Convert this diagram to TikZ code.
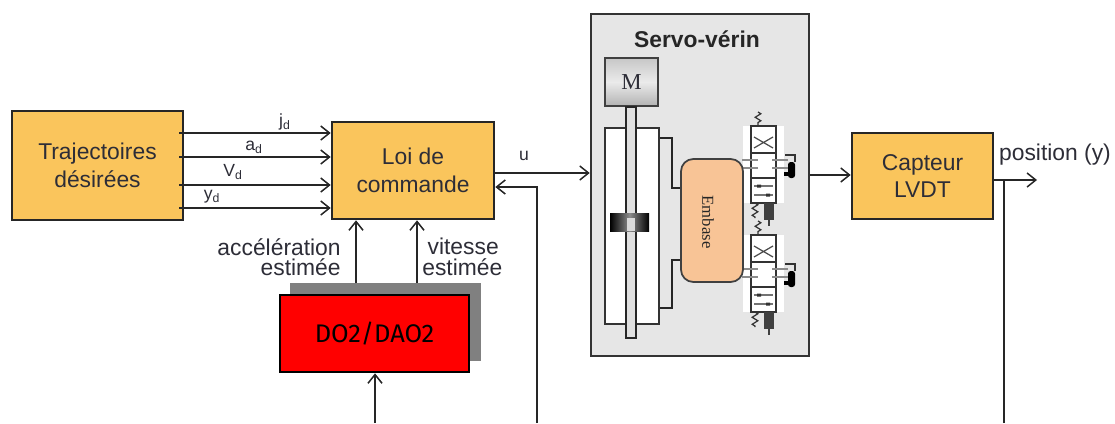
\documentclass[tikz,border=0pt]{standalone}
\usepackage{fontspec}
\setmainfont{Liberation Sans}
\newfontfamily\serifface{Liberation Serif}
\newfontfamily\boxface{Fira Sans}
\usetikzlibrary{arrows.meta, calc, decorations.pathmorphing}
\definecolor{blockorange}{RGB}{250, 197, 92}
\definecolor{embasecolor}{RGB}{248, 196, 150}
\definecolor{servogray}{RGB}{230, 230, 230}
\definecolor{textdark}{RGB}{45, 45, 55}
\tikzset{
  block/.style={draw=black!85, line width=1.5pt, fill=blockorange, text=textdark, align=center,
    font=\fontsize{13}{15.6}\selectfont},
  sig/.style={draw=black!85, line width=0.85pt, -{Straight Barb[length=5pt,width=8pt,line width=0.85pt]}},
  sigline/.style={draw=black!85, line width=0.85pt},
  lab/.style={text=textdark, inner sep=0pt, align=center, font=\fontsize{13}{11.6}\selectfont},
  sublab/.style={text=textdark, inner sep=0pt, align=center, font=\fontsize{10}{11}\selectfont},
  pipe/.style={draw=black!85, line width=1.6pt},
  spring/.style={draw=black!80, line width=0.7pt, decorate, decoration={zigzag, segment length=4pt, amplitude=1.6pt}},
  valve/.pic={
    \fill[white] (-8,0) rectangle (33,77);
    \draw[black!80, line width=0.9pt] (0,0) rectangle (25,77);
    \draw[black!80, line width=0.8pt] (0,27) -- (25,27) (0,52) -- (25,52);
    \draw[black!70, line width=0.7pt] (3,11) -- (22,22) (22,11) -- (3,22);
    % orifices
    \draw[black!45, line width=0.7pt] (-9,34) -- (7,34) (-9,42) -- (7,42);
    \draw[black!45, line width=0.7pt] (21,34) -- (37,34) (21,42) -- (37,42);
    \draw[black!55, line width=0.6pt] (3,60) -- (22,60) (3,69) -- (22,69);
    \fill[black!80] (6,58.5) rectangle (10,61.5) (15,67.5) rectangle (19,70.5);
    % ressorts
    \draw[spring] (7,-14) -- (7,0);
    \draw[spring] (4,77) -- (4,92);
    % pilote
    \fill[black!75] (13,77) rectangle (23,94);
    \draw[black!75, line width=1.2pt] (18,94) -- (18,100);
    \draw[black!80, line width=0.6pt] (34,29) -- (44,29) -- (44,36);
    \fill[black, rounded corners=1.5pt] (37,36) rectangle (44,52);
    \fill[black] (33,46) rectangle (41,50);
  }
}
\begin{document}
\begin{tikzpicture}[x=0.02cm, y=-0.02cm]
  \useasboundingbox (0,0) rectangle (1115,423);

  % blocs
  \node[block, minimum width=3.42cm, minimum height=2.18cm] (traj) at (97.5,165.5) {Trajectoires\\désirées};
  \node[block, minimum width=3.24cm, minimum height=1.94cm] (loi) at (413,170.5) {Loi de\\commande};
  \node[block, minimum width=2.82cm, minimum height=1.72cm] (capteur) at (922.5,176) {Capteur\\LVDT};

  % observateur avec ombre
  \fill[black!50] (290,283) rectangle (481,361);
  \node[draw=black, line width=1.5pt, fill=red, minimum width=3.78cm, minimum height=1.54cm,
    font=\boxface\fontsize{14.5}{16}\selectfont] (obs) at (374.5,333.5) {DO2/DAO2};

  % servo-verin
  \node[draw=black!80, line width=1.5pt, fill=servogray, minimum width=4.36cm, minimum height=6.84cm] (servo) at (700,185) {};
  \node[font=\bfseries\fontsize{13}{14}\selectfont, text=black!85, inner sep=0pt] (servotitle) at (697,39) {Servo-vérin};
  \node[draw=black!75, line width=0.9pt, top color=black!22, bottom color=black!30, middle color=black!8,
    minimum width=1.06cm, minimum height=0.96cm, text=textdark,
    font=\serifface\fontsize{13}{14}\selectfont] (moteur) at (631.5,82) {M};
  \node[draw=black!80, line width=0.9pt, fill=white, minimum width=1.08cm, minimum height=3.92cm] (corps) at (632,226) {};
  \node[draw=black!85, line width=1.1pt, fill=black!12, minimum width=0.2cm, minimum height=4.62cm, inner sep=0pt] (tige) at (631,222.5) {};
  \node[left color=black, right color=black, middle color=black!45, minimum width=0.78cm, minimum height=0.36cm, inner sep=0pt] (piston) at (629.5,222) {};
  \fill[black!15] (627,218) rectangle (635,231);

  % embase et distributeurs
  \pic at (751,126) {valve};
  \pic at (751,235) {valve};
  \node[draw=black!75, line width=1pt, fill=embasecolor, rounded corners=7pt, minimum width=1.24cm, minimum height=2.46cm] (embase) at (712,220.5) {};
  \node[rotate=-90, font=\serifface\fontsize{9.5}{10}\selectfont, text=black!85, inner sep=0pt] (embasetxt) at (708,222) {Embase};

  % liaisons verin
  \draw[pipe] (corps.east |- 0,138) -| (672,188) -- (embase.west |- 0,188);
  \draw[pipe] (corps.east |- 0,308) -| (672,260) -- (embase.west |- 0,260);

  % trajectoires desirees
  \draw[sig] ([xshift=-3pt]traj.east |- 0,133) -- (loi.west |- 0,133);
  \draw[sig] ([xshift=-3pt]traj.east |- 0,157) -- (loi.west |- 0,157);
  \draw[sig] ([xshift=-3pt]traj.east |- 0,185) -- (loi.west |- 0,185);
  \draw[sig] ([xshift=-3pt]traj.east |- 0,208) -- (loi.west |- 0,208);
  \node[sublab] (jd) at (285,122) {j\textsubscript{d}};
  \node[sublab] (ad) at (254,147) {a\textsubscript{d}};
  \node[sublab] (vd) at (233,172) {V\textsubscript{d}};
  \node[sublab] (yd) at (212,197) {y\textsubscript{d}};

  % commande et retour
  \draw[sig] (loi.east |- 0,173) -- (servo.west |- 0,173);
  \node[sublab] (ulab) at (524,156) {u};
  \coordinate (retour) at (537,423);
  \draw[sig] (retour) |- (loi.east |- 0,187);
  \draw[sig] (servo.east |- 0,175) -- (capteur.west |- 0,175);

  % sortie
  \coordinate (sortie) at (1037,180);
  \coordinate (mesure) at (1004,423);
  \draw[sig] (capteur.east |- sortie) -- (sortie);
  \draw[sigline] (mesure) -- (mesure |- sortie);
  \node[lab] (poslab) at (1055,155) {position (y)};

  % estimations
  \coordinate (obsA) at (356,283);
  \coordinate (obsV) at (417,283);
  \coordinate (obsIn) at (375,423);
  \draw[sig] (obsA) -- (loi.south -| obsA);
  \draw[sig] (obsV) -- (loi.south -| obsV);
  \draw[sig] (obsIn) -- (obs.south -| obsIn);
  \node[lab, anchor=east, align=right] (acclab) at (341,257) {accélération\\estimée};
  \node[lab, anchor=west, align=left] (vitlab) at (422,257) {\hspace*{3pt}vitesse\\estimée};
\end{tikzpicture}
\end{document}
